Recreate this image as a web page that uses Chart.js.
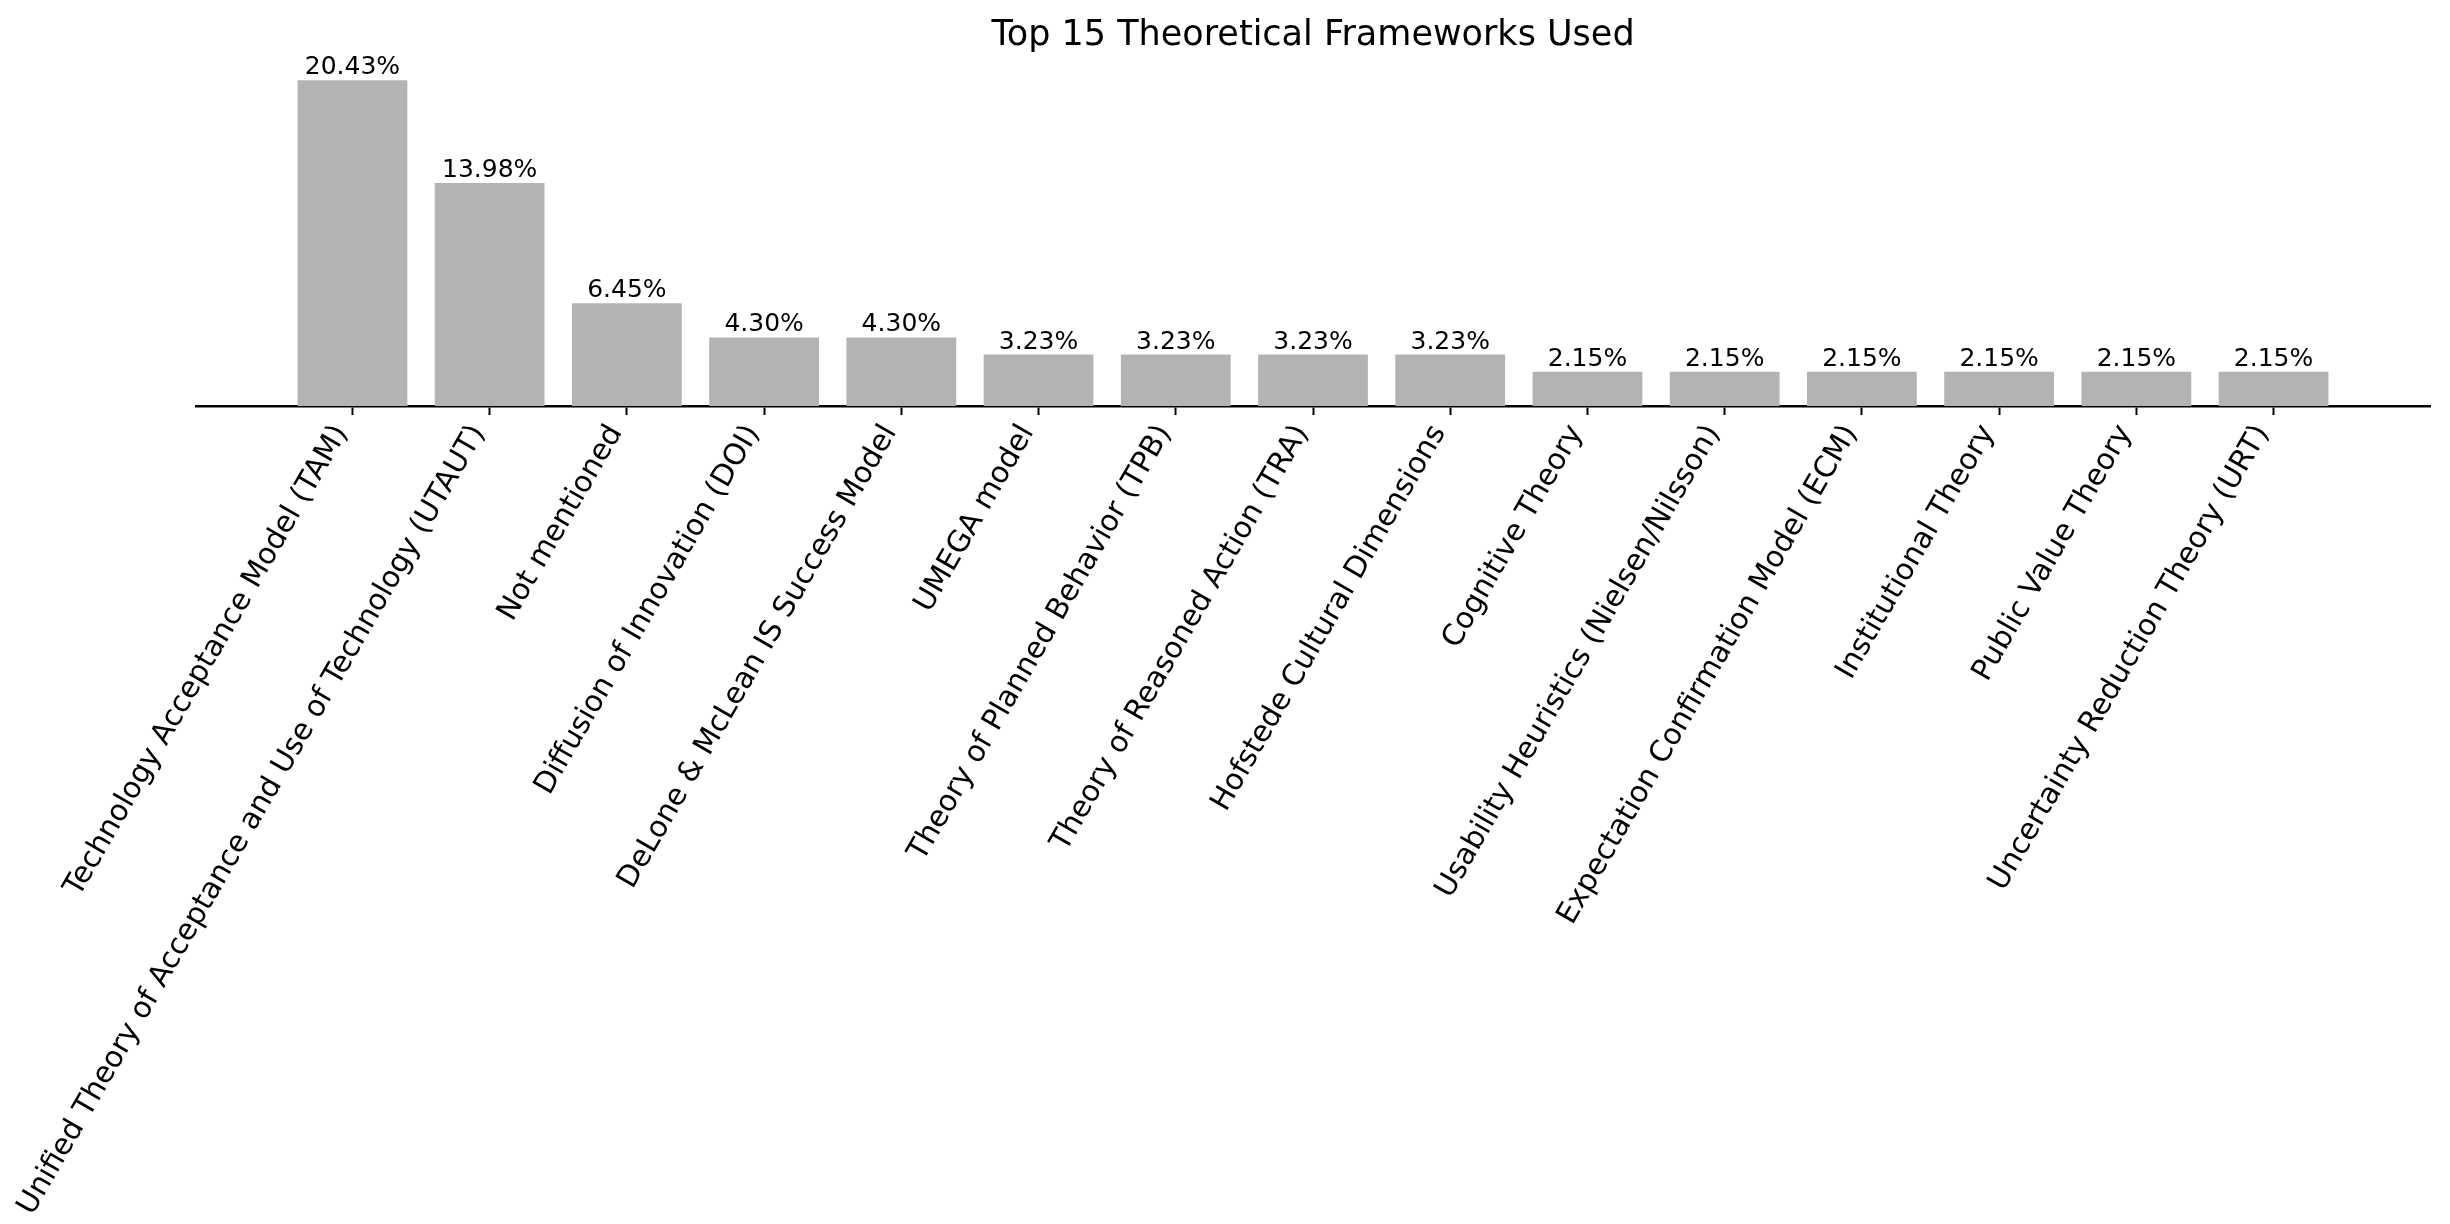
<!DOCTYPE html>
<html>
<head>
<meta charset="utf-8">
<script src="https://cdn.jsdelivr.net/npm/chart.js@4"></script>
<style>
  html, body { margin: 0; padding: 0; background: #fff; }
  #wrap { width: 2450px; height: 1224px; }
</style>
</head>
<body>
<div id="wrap"><canvas id="chart" width="2450" height="1224"></canvas></div>
<script>
// データ
const frameworks = [
    'Technology Acceptance Model (TAM)',
    'Unified Theory of Acceptance and Use of Technology (UTAUT)',
    'Not mentioned',
    'Diffusion of Innovation (DOI)',
    'DeLone & McLean IS Success Model',
    'UMEGA model',
    'Theory of Planned Behavior (TPB)',
    'Theory of Reasoned Action (TRA)',
    'Hofstede Cultural Dimensions',
    'Cognitive Theory',
    'Usability Heuristics (Nielsen/Nilsson)',
    'Expectation Confirmation Model (ECM)',
    'Institutional Theory',
    'Public Value Theory',
    'Uncertainty Reduction Theory (URT)'
];
const percentages = [20.43, 13.98, 6.45, 4.30, 4.30, 3.23, 3.23, 3.23, 3.23, 2.15, 2.15, 2.15, 2.15, 2.15, 2.15];
const chartTitle = 'Top 15 Theoretical Frameworks Used';

const FONT = "'DejaVu Sans', sans-serif";
const barColor = '#b3b3b3';

// バーの上に値を表示
const valueLabels = {
    id: 'valueLabels',
    afterDatasetsDraw(chart) {
        const ctx = chart.ctx;
        const meta = chart.getDatasetMeta(0);
        ctx.save();
        ctx.font = `25px ${FONT}`;
        ctx.fillStyle = '#000';
        ctx.textAlign = 'center';
        ctx.textBaseline = 'alphabetic';
        meta.data.forEach((bar, i) => {
            ctx.fillText(percentages[i].toFixed(2) + '%', bar.x, bar.y - 6);
        });
        ctx.restore();
    }
};

const points = percentages.map((v, i) => ({ x: i, y: v }));
const n = frameworks.length;
const margin = (n - 1 + 0.8) * 0.05;

new Chart(document.getElementById('chart'), {
    type: 'bar',
    data: {
        datasets: [{
            data: points,
            backgroundColor: barColor,
            borderWidth: 0,
            categoryPercentage: 0.8,
            barPercentage: 1.0
        }]
    },
    options: {
        responsive: false,
        animation: false,
        layout: { padding: { left: 196, right: 20, top: 0, bottom: 0 } },
        plugins: {
            legend: { display: false },
            tooltip: { enabled: false },
            title: {
                display: true,
                text: chartTitle,
                color: '#000',
                font: { family: FONT, size: 35, weight: 'normal' },
                padding: { top: 15, bottom: 7 }
            }
        },
        scales: {
            x: {
                type: 'linear',
                offset: false,
                min: -0.4 - margin,
                max: (n - 1) + 0.4 + margin,
                afterBuildTicks: (scale) => {
                    scale.ticks = frameworks.map((_, i) => ({ value: i }));
                },
                afterFit: (scale) => { scale.height = 818; },
                grid: {
                    display: true,
                    offset: false,
                    drawOnChartArea: false,
                    drawTicks: true,
                    tickLength: 9,
                    tickWidth: 2,
                    tickColor: '#000'
                },
                border: { display: true, color: '#000', width: 2.5 },
                ticks: {
                    autoSkip: false,
                    minRotation: 60,
                    maxRotation: 60,
                    padding: 4,
                    labelOffset: -11,
                    color: '#000',
                    font: { family: FONT, size: 29.5 },
                    callback: (value) => frameworks[value] ?? ''
                }
            },
            y: {
                display: false,
                min: 0,
                max: percentages[0] * 1.05
            }
        }
    },
    plugins: [valueLabels]
});
</script>
</body>
</html>
